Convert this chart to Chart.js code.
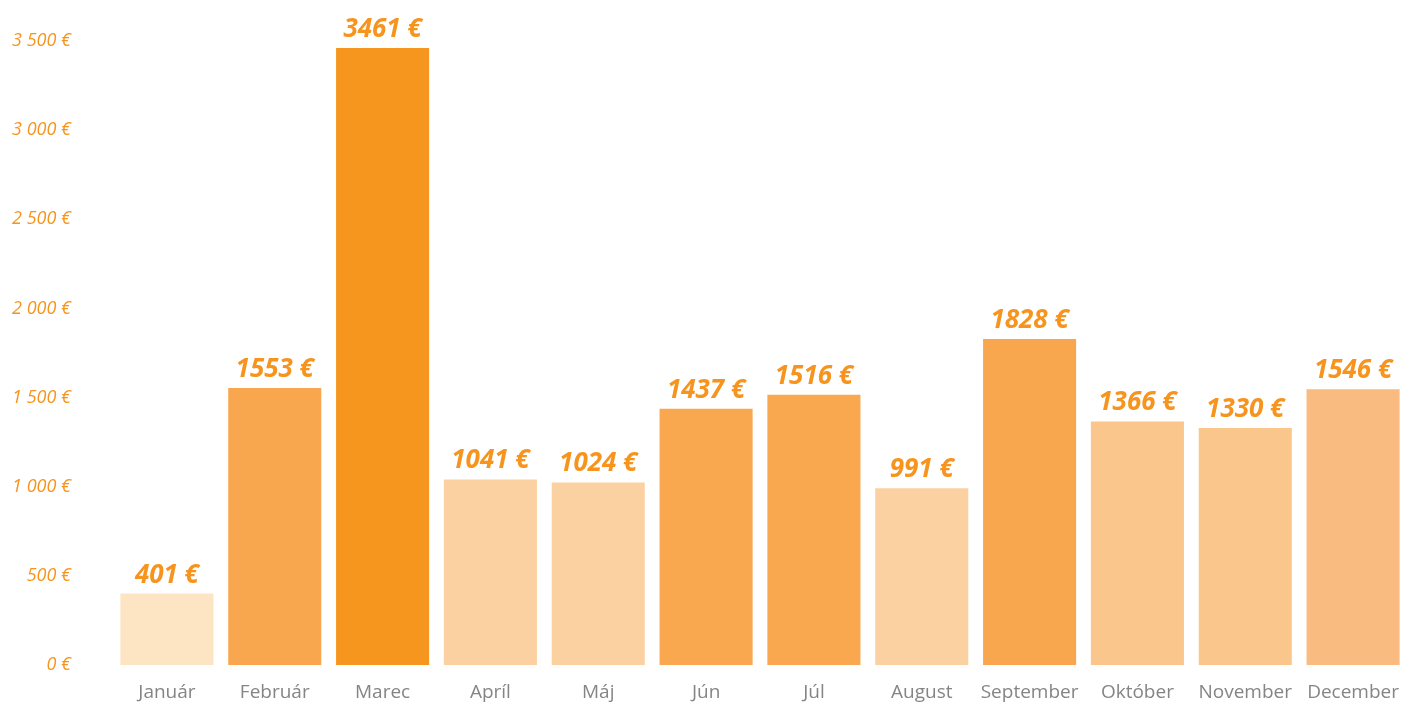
<!DOCTYPE html>
<html>
<head>
<meta charset="utf-8">
<script src="https://cdn.jsdelivr.net/npm/chart.js@4.4.0/dist/chart.umd.min.js"></script>
<style>
  html, body { margin: 0; padding: 0; background: #ffffff; overflow: hidden; }
  #wrap { position: absolute; left: 0; top: 0; width: 1407px; height: 702px; }
  #c { display: block; width: 1407px; height: 702px; }
</style>
</head>
<body>
<div id="wrap"><canvas id="c" width="1407" height="702"></canvas></div>
<script>
const categories = ["Január", "Február", "Marec", "Apríl", "Máj", "Jún", "Júl", "August", "September", "Október", "November", "December"];
const values = [401, 1553, 3461, 1041, 1024, 1437, 1516, 991, 1828, 1366, 1330, 1546];
const barColors = ["#FDE5C4", "#F9A74E", "#F7961F", "#FBD1A2", "#FBD1A2", "#F9A84F", "#F9A84F", "#FBD1A2", "#F9A74E", "#FBC68B", "#FBC68B", "#FABB80"];
const yTicks = [0, 500, 1000, 1500, 2000, 2500, 3000, 3500];

function fmtTick(v) {
  const s = String(v);
  return (s.length > 3 ? s.slice(0, s.length - 3) + " " + s.slice(-3) : s) + " €";
}

const labelPlugin = {
  id: "valueLabels",
  afterDatasetsDraw(chart) {
    const ctx = chart.ctx;
    const meta = chart.getDatasetMeta(0);
    ctx.save();
    ctx.fillStyle = "#F7941D";
    ctx.font = "italic bold 26px 'Open Sans'";
    ctx.textAlign = "center";
    ctx.textBaseline = "alphabetic";
    meta.data.forEach((bar, i) => {
      ctx.fillText(values[i] + " €", bar.x, bar.y - 11);
    });
    ctx.restore();
  }
};

new Chart(document.getElementById("c"), {
  type: "bar",
  data: {
    labels: categories,
    datasets: [{
      data: values,
      backgroundColor: barColors,
      borderWidth: 0,
      barPercentage: 0.863,
      categoryPercentage: 1.0
    }]
  },
  options: {
    responsive: false,
    maintainAspectRatio: false,
    devicePixelRatio: 1,
    animation: false,
    layout: { padding: { top: 41, right: 0, bottom: 0, left: 0 } },
    plugins: { legend: { display: false }, tooltip: { enabled: false } },
    scales: {
      x: {
        grid: { display: false, drawTicks: false },
        border: { display: false },
        afterFit(scale) {
          scale.height = 37;
          scale.paddingLeft = 0;
          scale.paddingRight = 0;
        },
        ticks: {
          color: "#858585",
          font: { family: "'Open Sans'", size: 19 },
          padding: 16,
          maxRotation: 0,
          autoSkip: false
        }
      },
      y: {
        min: 0,
        max: 3500,
        afterBuildTicks(scale) { scale.ticks = yTicks.map(v => ({ value: v })); },
        afterFit(scale) {
          scale.width = 113;
          scale.paddingTop = 0;
          scale.paddingBottom = 0;
        },
        grid: { display: false, drawTicks: false },
        border: { display: false },
        ticks: {
          color: "#F7941D",
          font: { family: "'Open Sans'", size: 18, style: "italic" },
          padding: 42,
          callback: (v) => fmtTick(v)
        }
      }
    }
  },
  plugins: [labelPlugin]
});
</script>
</body>
</html>
